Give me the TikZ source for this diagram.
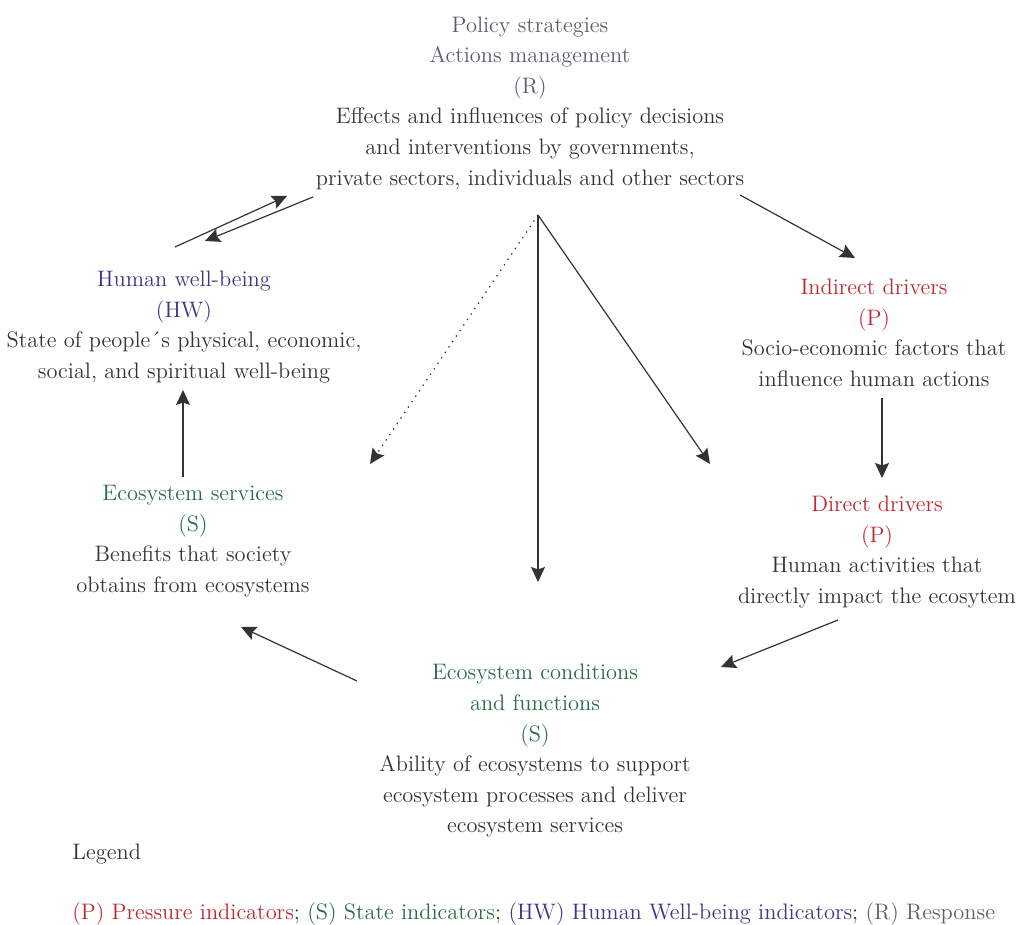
\documentclass[tikz,border=0pt]{standalone}
\usetikzlibrary{arrows.meta}
\definecolor{TextClr}{rgb}{0.2,0.2,0.2}
\definecolor{RespClr}{rgb}{0.36,0.36,0.42}
\definecolor{PressClr}{rgb}{0.75,0.15,0.18}
\definecolor{StateClr}{rgb}{0.16,0.42,0.26}
\definecolor{HumClr}{rgb}{0.22,0.21,0.52}

\tikzset{
  block/.style={align=center,text=TextClr,inner sep=0pt,
    font=\fontsize{11.2}{15.3}\selectfont},
  link/.style={-{Stealth[length=7.5pt,width=7pt,inset=1.2pt]},line width=0.6pt,color=TextClr},
  dotlink/.style={link,dash pattern=on 0.7pt off 2.6pt},
}

\begin{document}
\begin{tikzpicture}[x=0.5pt,y=-0.5pt]
\useasboundingbox (0,0) rectangle (1023,925);

% blocks
\node[block] (resp) at (530,103) {\textcolor{RespClr}{Policy strategies}\\
  \textcolor{RespClr}{Actions management}\\ \textcolor{RespClr}{(R)}\\
  Effects and influences of policy decisions\\
  and interventions by governments,\\
  private sectors, individuals and other sectors};
\node[block] (hum) at (184,327) {\textcolor{HumClr}{Human well-being}\\
  \textcolor{HumClr}{(HW)}\\
  State of people\'{}s physical, economic,\\
  social, and spiritual well-being};
\node[block] (ind) at (874,333) {\textcolor{PressClr}{Indirect drivers}\\
  \textcolor{PressClr}{(P)}\\
  Socio-economic factors that\\ influence human actions};
\node[block] (dir) at (877,552) {\textcolor{PressClr}{Direct drivers}\\
  \textcolor{PressClr}{(P)}\\
  Human activities that\\ directly impact the ecosytem};
\node[block] (serv) at (193,541) {\textcolor{StateClr}{Ecosystem services}\\
  \textcolor{StateClr}{(S)}\\
  Benefits that society\\ obtains from ecosystems};
\node[block] (cond) at (535,751) {\textcolor{StateClr}{Ecosystem conditions}\\
  \textcolor{StateClr}{and functions}\\ \textcolor{StateClr}{(S)}\\
  Ability of ecosystems to support\\
  ecosystem processes and deliver\\
  ecosystem services};

% legend
\node[block,anchor=west] (leg) at (72,854) {Legend};
\node[block,anchor=west] (legline) at (72,914) {\textcolor{PressClr}{(P) Pressure indicators}; \textcolor{StateClr}{(S) State indicators}; \textcolor{HumClr}{(HW) Human Well-being indicators}; \textcolor{RespClr}{(R) Response}};

% arrow ends
\coordinate (hr1) at (175,247);
\coordinate (hr2) at (287,196);
\coordinate (rh1) at (313,197);
\coordinate (rh2) at (205,241);
\coordinate (ri1) at (740,195);
\coordinate (ri2) at (855,258);
\coordinate (id1) at (882,398);
\coordinate (id2) at (882,478);
\coordinate (apex) at (538,215);
\coordinate (ap1) at (370,464);
\coordinate (ap2) at (538,582);
\coordinate (ap3) at (710,464);
\coordinate (dc1) at (838,620);
\coordinate (dc2) at (721,667);
\coordinate (cs1) at (357,681);
\coordinate (cs2) at (241,627);
\coordinate (sh1) at (183,477);
\coordinate (sh2) at (183,390);

% connectors
\draw[link] (hr1) -- (hr2);
\draw[link] (rh1) -- (rh2);
\draw[link] (ri1) -- (ri2);
\draw[link] (id1) -- (id2);
\draw[dotlink] (apex) -- (ap1);
\draw[link] (apex) -- (ap2);
\draw[link] (apex) -- (ap3);
\draw[link] (dc1) -- (dc2);
\draw[link] (cs1) -- (cs2);
\draw[link] (sh1) -- (sh2);

\end{tikzpicture}
\end{document}
